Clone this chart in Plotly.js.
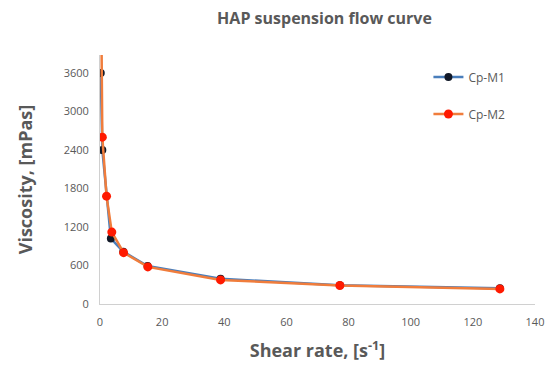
<!DOCTYPE html>
<html>
<head>
<script src="https://cdn.plot.ly/plotly-3.0.1.min.js"></script>
<style>body{margin:0;padding:0;background:#fff}#chart{width:550px;height:370px}</style>
</head>
<body>
<div id="chart"></div>
<script>
const m1Shear = [0.25, 0.75, 3.5, 7.5, 15.3, 38.8, 77.2, 128.7];
const m1Visc  = [3600, 2400, 1020, 815, 592, 392, 294, 244];
const m2Shear = [0.4, 0.75, 2.1, 3.8, 7.6, 15.4, 38.8, 77.2, 128.7];
const m2Visc  = [4600, 2600, 1680, 1120, 800, 578, 375, 288, 235];
const xTicks = [0, 20, 40, 60, 80, 100, 120, 140];
const yTicks = [0, 600, 1200, 1800, 2400, 3000, 3600];

const grey = '#595959';
const traces = [
  {x: m1Shear, y: m1Visc, name: 'Cp-M1', mode: 'lines+markers', legendgroup: 'a',
   line: {color: '#4a7ebb', width: 2.5}, marker: {color: '#111827', size: 8}},
  {x: m2Shear, y: m2Visc, name: 'Cp-M2', mode: 'lines+markers', legendgroup: 'b',
   line: {color: '#f07d3c', width: 2.5}, marker: {color: '#ff1a00', size: 9}}
];
const layout = {
  width: 550, height: 370,
  margin: {l: 100, r: 15, t: 55, b: 66},
  paper_bgcolor: '#fff', plot_bgcolor: '#fff',
  font: {family: 'Open Sans, sans-serif', color: grey},
  title: {text: '<b>HAP suspension flow curve</b>', x: 0.59, xanchor: 'center', y: 0.95, yanchor: 'middle',
          font: {size: 16, color: grey}},
  xaxis: {range: [0, 140], tickvals: xTicks, ticktext: xTicks.map(String), showgrid: false, zeroline: false,
          showline: true, linecolor: '#d0d0d0', linewidth: 1, ticks: '', tickfont: {size: 11, color: grey},
          ticklabelstandoff: 8,
          title: {text: '<b>Shear rate, [s<sup>-1</sup>]</b>', font: {size: 18, color: grey}, standoff: 16}},
  yaxis: {range: [0, 3880], tickvals: yTicks, ticktext: yTicks.map(String), showgrid: false, zeroline: false,
          showline: true, linecolor: '#d0d0d0', linewidth: 1, ticks: '', tickfont: {size: 11, color: grey},
          ticklabelstandoff: 8,
          title: {text: '<b>Viscosity, [mPas]</b>', font: {size: 18, color: grey}, standoff: 26}},
  showlegend: true,
  legend: {x: 0.755, y: 0.97, xanchor: 'left', yanchor: 'top', font: {size: 12, color: grey},
           bgcolor: 'rgba(255,255,255,0)', tracegroupgap: 18, traceorder: 'grouped'}
};
Plotly.newPlot('chart', traces, layout, {displayModeBar: false, staticPlot: true});
</script>
</body>
</html>
